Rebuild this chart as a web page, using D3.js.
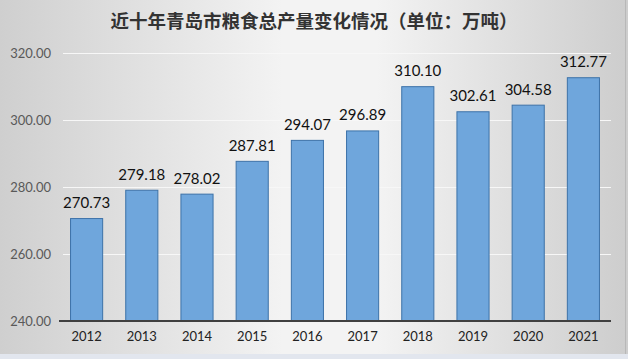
<!DOCTYPE html>
<html><head><meta charset="utf-8">
<script src="https://cdn.jsdelivr.net/npm/d3@7"></script>
<style>html,body{margin:0;padding:0;background:#fff;}svg{display:block;}</style>
</head><body>
<svg id="chart" width="628" height="359"></svg>
<script>
const title = "近十年青岛市粮食总产量变化情况（单位：万吨）";
const years = ["2012","2013","2014","2015","2016","2017","2018","2019","2020","2021"];
const values = [270.73, 279.18, 278.02, 287.81, 294.07, 296.89, 310.10, 302.61, 304.58, 312.77];
const yTicks = [240, 260, 280, 300, 320];

const W = 628, H = 359;
const svg = d3.select("#chart");
const defs = svg.append("defs");
const g1 = defs.append("linearGradient").attr("id","bg").attr("x1","0").attr("x2","1").attr("y1","0").attr("y2","0");
g1.append("stop").attr("offset","0%").attr("stop-color","#cfcfcf");
g1.append("stop").attr("offset","45%").attr("stop-color","#f3f3f3");
g1.append("stop").attr("offset","60%").attr("stop-color","#f3f3f3");
g1.append("stop").attr("offset","100%").attr("stop-color","#cdcdcd");
svg.append("rect").attr("x",0).attr("y",0).attr("width",W).attr("height",H).attr("fill","url(#bg)");
svg.append("rect").attr("x",0).attr("y",354).attr("width",W).attr("height",5).attr("fill","#e2e6ee");
svg.append("line").attr("x1",625.5).attr("x2",625.5).attr("y1",0).attr("y2",354).attr("stroke","#b8b8b8");

const x = d3.scaleBand().domain(years).range([59, 611]).paddingInner(0.4).paddingOuter(0.2);
const y = d3.scaleLinear().domain([240, 320]).range([321, 53]);

// gridlines
svg.append("g").selectAll("line").data(yTicks.filter(d => d > 240)).join("line")
  .attr("x1", 63).attr("x2", 611)
  .attr("y1", d => Math.round(y(d)) + 0.5).attr("y2", d => Math.round(y(d)) + 0.5)
  .attr("stroke", "#f7f7f7").attr("stroke-width", 1);

// y axis labels
const yAxis = d3.axisLeft(y).tickValues(yTicks).tickFormat(d3.format(".2f")).tickSize(0).tickPadding(0);
const ya = svg.append("g").attr("transform","translate(51,0)").call(yAxis);
ya.select(".domain").remove();
ya.selectAll("text").attr("font-family","Lato, 'Liberation Sans', sans-serif").attr("font-size","13px").attr("fill","#595959");

// bars
svg.append("g").selectAll("rect").data(values).join("rect")
  .attr("x", (d,i) => x(years[i]) + 0.5)
  .attr("y", d => y(d) + 0.5)
  .attr("width", x.bandwidth() - 1)
  .attr("height", d => y(240) - y(d) - 0.5)
  .attr("fill", "#6fa6dc")
  .attr("stroke", "#3d72a8")
  .attr("stroke-width", 1);

// value labels
svg.append("g").selectAll("text").data(values).join("text")
  .attr("x", (d,i) => x(years[i]) + x.bandwidth()/2)
  .attr("y", d => y(d) - 10)
  .attr("text-anchor","middle")
  .attr("font-family","Lato, 'Liberation Sans', sans-serif")
  .attr("font-size","15px")
  .attr("fill","#111")
  .text(d => d.toFixed(2));

// x axis
const xAxis = d3.axisBottom(x).tickSize(0).tickPadding(11);
const xa = svg.append("g").attr("transform","translate(0,321)").call(xAxis);
xa.select(".domain").attr("stroke","#404040").attr("stroke-width",2).attr("d","M59,0H611");
xa.selectAll("text").attr("font-family","Lato, 'Liberation Sans', sans-serif").attr("font-size","13px").attr("fill","#222");

// title
svg.append("text").attr("x", 314).attr("y", 28).attr("text-anchor","middle")
  .attr("font-family","'Noto Sans CJK SC', sans-serif").attr("font-weight","700")
  .attr("font-size","18.5px").attr("fill","#333").text(title);
</script>
</body></html>
